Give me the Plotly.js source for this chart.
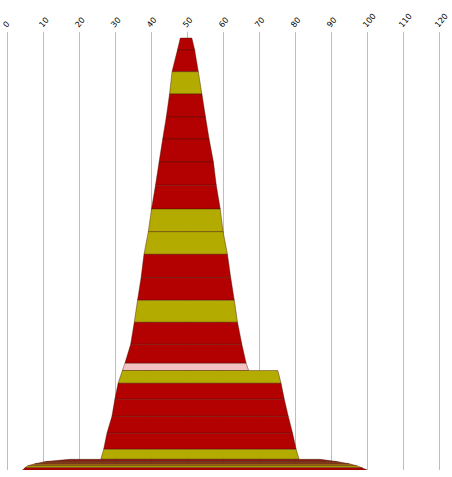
<!DOCTYPE html>
<html>
<head>
<meta charset="utf-8">
<script src="https://cdn.plot.ly/plotly-3.0.1.min.js"></script>
<style>
  html, body { margin: 0; padding: 0; background: #fff; }
  #plot { width: 452px; height: 477px; }
</style>
</head>
<body>
<div id="plot"></div>
<script>
// band limits (x in axis units, y = height above the base)
var bandTop  = [432, 420, 398.3, 376, 353, 331, 308, 284.7, 261, 238.3, 215.7, 192.5, 169.7, 147.7, 125.7, 106.7, 99.5, 86.7, 70.7, 53.7, 36.7, 20.7, 10.7, 8.5, 6.3, 4.2, 2.2];
var bandBot  = [420, 398.3, 376, 353, 331, 308, 284.7, 261, 238.3, 215.7, 192.5, 169.7, 147.7, 125.7, 106.7, 99.5, 86.7, 70.7, 53.7, 36.7, 20.7, 10.7, 8.5, 6.3, 4.2, 2.2, 0];
var leftTop  = [48.0, 47.2, 45.7, 45.0, 44.1, 43.1, 42.1, 41.1, 40.0, 39.1, 37.9, 37.1, 36.1, 35.2, 34.2, 32.6, 31.9, 30.7, 29.8, 29.0, 27.6, 26.7, 17.3, 10.6, 7.6, 5.6, 4.8];
var rightTop = [51.2, 52.0, 53.0, 54.0, 55.0, 56.0, 57.2, 58.0, 59.1, 59.9, 61.1, 62.0, 63.0, 63.9, 65.1, 66.3, 75.1, 76.0, 76.9, 78.0, 79.2, 80.2, 86.8, 91.5, 94.9, 97.1, 98.5];
var leftBot  = [47.2, 45.7, 45.0, 44.1, 43.1, 42.1, 41.1, 40.0, 39.1, 37.9, 37.1, 36.1, 35.2, 34.2, 32.6, 31.9, 30.7, 29.8, 29.0, 27.6, 26.7, 25.9, 10.6, 7.6, 5.6, 4.8, 4.2];
var rightBot = [52.0, 53.0, 54.0, 55.0, 56.0, 57.2, 58.0, 59.1, 59.9, 61.1, 62.0, 63.0, 63.9, 65.1, 66.3, 67.0, 76.0, 76.9, 78.0, 79.2, 80.2, 81.0, 91.5, 94.9, 97.1, 98.5, 99.9];
var bandKind = ['R','R','Y','R','R','R','R','R','Y','Y','R','R','Y','R','R','P','Y','R','R','R','R','Y','D','B','O','Y','R'];

var colors = {R: '#b30000', Y: '#b3ab00', P: '#f2c2c2', D: '#861b12', B: '#8c3418', O: '#9c6a10'};

var data = [];
for (var i = 0; i < bandTop.length; i++) {
  data.push({
    x: [leftTop[i], rightTop[i], rightBot[i], leftBot[i], leftTop[i]],
    y: [bandTop[i], bandTop[i], bandBot[i], bandBot[i], bandTop[i]],
    type: 'scatter',
    mode: 'lines',
    fill: 'toself',
    fillcolor: colors[bandKind[i]],
    line: {color: 'rgba(70,20,0,0.6)', width: 0.7},
    hoverinfo: 'skip',
    showlegend: false
  });
}

var layout = {
  width: 452,
  height: 477,
  margin: {l: 4, r: 9, t: 32, b: 7},
  paper_bgcolor: '#fff',
  plot_bgcolor: '#fff',
  xaxis: {
    side: 'top',
    range: [-1, 121],
    tick0: 0,
    dtick: 10,
    tickangle: -50,
    ticklabeloverflow: 'allow',
    ticklabelshift: -4,
    showgrid: true,
    gridcolor: '#bdbdbd',
    gridwidth: 1,
    zeroline: false,
    showline: false,
    ticks: '',
    tickfont: {family: 'DejaVu Sans', size: 8, color: '#000'}
  },
  yaxis: {
    range: [0, 438],
    visible: false,
    showgrid: false,
    zeroline: false
  }
};

Plotly.newPlot('plot', data, layout, {displayModeBar: false, staticPlot: true});
</script>
</body>
</html>
